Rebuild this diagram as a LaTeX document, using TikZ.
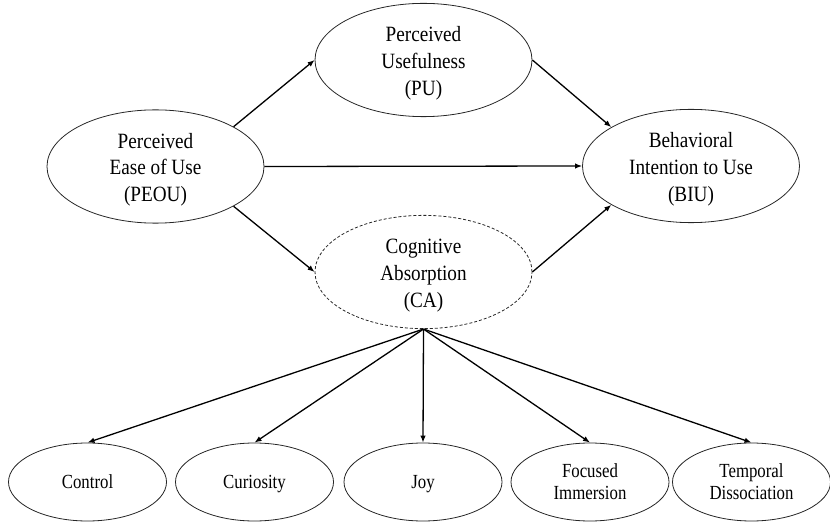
\documentclass[tikz,border=0pt]{standalone}
\usepackage{graphicx}
\usepackage{fontspec}
\setmainfont{Liberation Serif}
\usetikzlibrary{shapes.geometric,arrows.meta}
\newcommand\toptxt[1]{{\fontsize{21.8bp}{26.7bp}\selectfont\raisebox{-3bp}[\height][\depth]{\scalebox{0.88}[1]{\begin{tabular}{@{}c@{}}#1\end{tabular}}}}}
\newcommand\bottxt[1]{{\fontsize{20bp}{21.7bp}\selectfont\raisebox{-2.5bp}[\height][\depth]{\scalebox{0.84}[1]{\begin{tabular}{@{}c@{}}#1\end{tabular}}}}}
\tikzset{
  big/.style={ellipse,draw=black!85,line width=0.8bp,minimum width=217bp,minimum height=107bp,inner sep=0pt},
  small/.style={ellipse,draw=black!85,line width=0.8bp,minimum width=158bp,minimum height=78bp,inner sep=0pt},
  arr/.style={line width=1.3bp,-{Latex[length=7bp,width=5.5bp]}},
}
\begin{document}
\begin{tikzpicture}[x=1bp,y=-1bp]
\useasboundingbox (0,0) rectangle (830,522);
\node[big] (peou) at (155.5,166.5) {\toptxt{Perceived\\Ease of Use\\(PEOU)}};
\node[big] (pu) at (423.5,60) {\toptxt{Perceived\\Usefulness\\(PU)}};
\node[big] (biu) at (691,166) {\toptxt{Behavioral\\Intention to Use\\(BIU)}};
\node[big,dash pattern=on 3bp off 2bp] (ca) at (423.5,272) {\toptxt{Cognitive\\Absorption\\(CA)}};
\node[small] (control) at (87.5,482) {\bottxt{Control}};
\node[small] (curiosity) at (254.5,482) {\bottxt{Curiosity}};
\node[small] (joy) at (423,482) {\bottxt{Joy}};
\node[small] (focused) at (590,482) {\bottxt{Focused\\Immersion}};
\node[small] (temporal) at (751.5,482) {\bottxt{Temporal\\Dissociation}};
\draw[arr] (peou.27) -- (pu.west);
\draw[arr] (pu.east) -- (biu.154);
\draw[arr] (peou.east) -- (biu.west);
\draw[arr] (peou.-27) -- (ca.west);
\draw[arr] (ca.east) -- (biu.206);
\foreach \t in {control,curiosity,joy,focused,temporal}
  \draw[arr] (ca.south) -- (\t.north);
\end{tikzpicture}
\end{document}
